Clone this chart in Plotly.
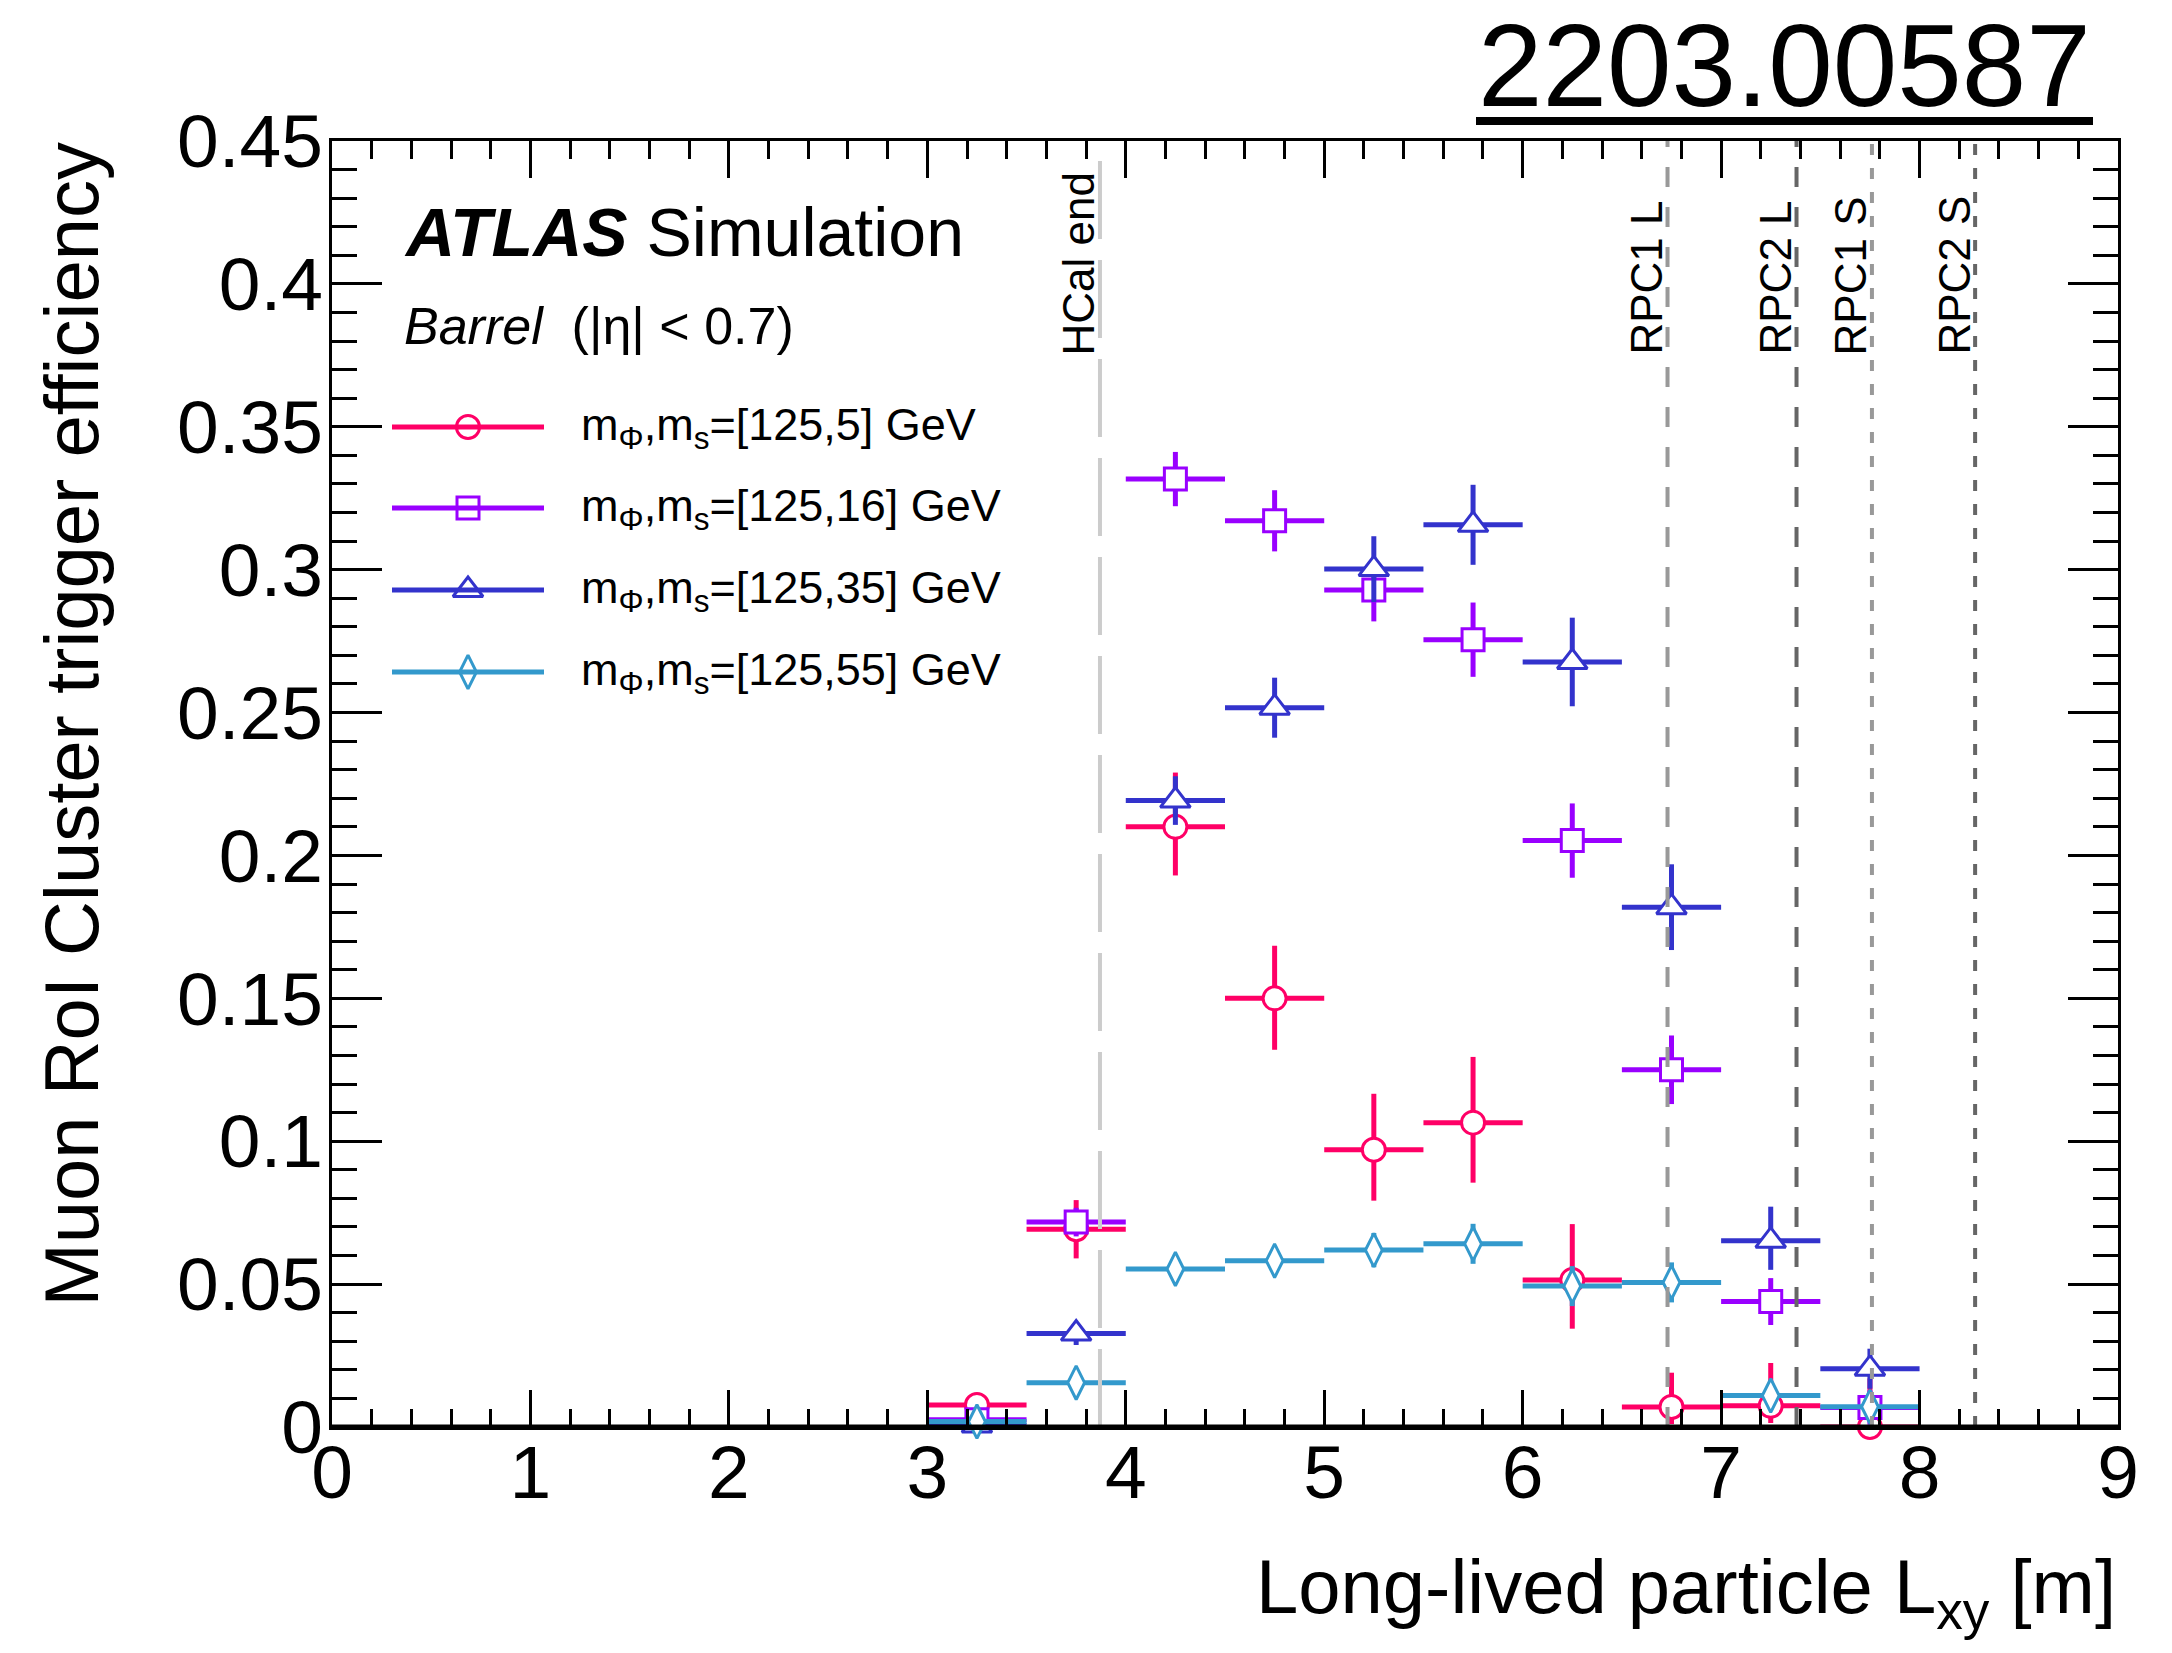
import plotly.graph_objects as go

# ---------------- data ----------------
bin_centers = [3.25, 3.75, 4.25, 4.75, 5.25, 5.75, 6.25, 6.75, 7.25, 7.75]
bin_halfwidth = [0.25, 0.25, 0.25, 0.25, 0.25, 0.25, 0.25, 0.25, 0.25, 0.25]

eff_m5 = [0.0077, 0.0692, 0.210, 0.150, 0.097, 0.1065, 0.0514, 0.0070, 0.0074, 0.0]
err_m5_up = [0.004, 0.0102, 0.019, 0.0184, 0.0196, 0.023, 0.0196, 0.012, 0.015, 0.017]
err_m5_dn = [0.003, 0.0102, 0.017, 0.018, 0.0178, 0.021, 0.017, 0.006, 0.006, 0.0]

eff_m16 = [0.0025, 0.0717, 0.3317, 0.3171, 0.2929, 0.2755, 0.2052, 0.1250, 0.0439, 0.0068]
err_m16 = [0.002, 0.005, 0.0095, 0.0107, 0.011, 0.013, 0.013, 0.012, 0.0082, 0.006]

eff_m35 = [0.0005, 0.0327, 0.2192, 0.2517, 0.3002, 0.3157, 0.2677, 0.1819, 0.0652, 0.0204]
err_m35_up = [0.001, 0.004, 0.0085, 0.0105, 0.0115, 0.014, 0.0155, 0.015, 0.0119, 0.007]
err_m35_dn = [0.0005, 0.004, 0.0085, 0.0105, 0.0115, 0.014, 0.0155, 0.015, 0.0102, 0.007]

eff_m55 = [0.0019, 0.0155, 0.0553, 0.0582, 0.0619, 0.0641, 0.0493, 0.0506, 0.0110, 0.0071]
err_m55 = [0.002, 0.005, 0.005, 0.005, 0.006, 0.007, 0.007, 0.007, 0.005, 0.005]

series_labels = ["m<sub>Φ</sub>,m<sub>s</sub>=[125,5] GeV",
                 "m<sub>Φ</sub>,m<sub>s</sub>=[125,16] GeV",
                 "m<sub>Φ</sub>,m<sub>s</sub>=[125,35] GeV",
                 "m<sub>Φ</sub>,m<sub>s</sub>=[125,55] GeV"]

detector_labels = ["HCal end", "RPC1 L", "RPC2 L", "RPC1 S", "RPC2 S"]
detector_positions = [3.87, 6.73, 7.38, 7.76, 8.28]

x_ticks = [0, 1, 2, 3, 4, 5, 6, 7, 8, 9]
y_ticks = [0, 0.05, 0.1, 0.15, 0.2, 0.25, 0.3, 0.35, 0.4, 0.45]

# ---------------- style ----------------
FONT = "Liberation Sans"
colors = ["#FF0066", "#9900FF", "#3333CC", "#3399CC"]
symbols = ["circle", "square", "triangle-up", "diamond-tall"]
msizes = [23, 22, 26, 24]
det_colors = ["#CCCCCC", "#999999", "#666666", "#999999", "#666666"]
det_dash = ["78px,21px", "20px,20px", "20px,20px", "11px,13px", "11px,13px"]

W, H = 2172, 1653
L, R, T, B = 332, 2118, 141, 1427
pw, ph = R - L, B - T


def px(x):
    return (x - L) / pw


def py(y):
    return (B - y) / ph


fig = go.Figure()

series = [
    (eff_m5, err_m5_up, err_m5_dn),
    (eff_m16, err_m16, err_m16),
    (eff_m35, err_m35_up, err_m35_dn),
    (eff_m55, err_m55, err_m55),
]
for i, (vals, eu, ed) in enumerate(series):
    fig.add_trace(go.Scatter(
        x=bin_centers, y=vals, mode="markers",
        marker=dict(symbol=symbols[i], size=msizes[i], color="white",
                    line=dict(color=colors[i], width=3)),
        error_x=dict(type="data", array=bin_halfwidth, symmetric=True,
                     thickness=5, width=0, color=colors[i]),
        error_y=dict(type="data", array=eu, arrayminus=ed, symmetric=False,
                     thickness=5, width=0, color=colors[i]),
        cliponaxis=False, showlegend=False, name=series_labels[i],
    ))

# manual ROOT-style legend
leg_rows = [427, 508, 590, 672]
leg_x0, leg_x1, leg_xm, leg_tx = 392, 544, 468, 579
for i, lab in enumerate(series_labels):
    fig.add_shape(type="line", xref="paper", yref="paper",
                  x0=px(leg_x0), x1=px(leg_x1), y0=py(leg_rows[i]), y1=py(leg_rows[i]),
                  line=dict(color=colors[i], width=5))
    fig.add_trace(go.Scatter(
        x=[px(leg_xm)], y=[py(leg_rows[i])], xaxis="x2", yaxis="y2", mode="markers",
        marker=dict(symbol=symbols[i], size=msizes[i], color="white",
                    line=dict(color=colors[i], width=3)),
        showlegend=False, cliponaxis=False, hoverinfo="skip"))
    fig.add_annotation(xref="paper", yref="paper", x=px(leg_tx), y=py(leg_rows[i]),
                       xanchor="left", yanchor="middle", text=lab, showarrow=False,
                       font=dict(family=FONT, size=45, color="black"))

# detector lines and labels
for lab, pos, c, d in zip(detector_labels, detector_positions, det_colors, det_dash):
    fig.add_shape(type="line", xref="x", yref="paper", x0=pos, x1=pos, y0=0, y1=1,
                  line=dict(color=c, width=4, dash=d), layer="above")
    fig.add_annotation(xref="x", yref="paper", x=pos, y=py(357), xanchor="center",
                       yanchor="bottom", xshift=-21, textangle=-90, text=lab,
                       showarrow=False, font=dict(family=FONT, size=44, color="black"))

# thick bottom axis line
fig.add_shape(type="line", xref="paper", yref="paper", x0=0, x1=1, y0=0, y1=0,
              line=dict(color="black", width=5), layer="above")

# ATLAS label
fig.add_annotation(xref="paper", yref="paper", x=px(402), y=py(232), xanchor="left",
                   yanchor="middle", showarrow=False,
                   text="<b><i>ATLAS</i></b> Simulation",
                   font=dict(family=FONT, size=68, color="black"))
fig.add_annotation(xref="paper", yref="paper", x=px(402), y=py(326), xanchor="left",
                   yanchor="middle", showarrow=False,
                   text="<i>Barrel</i>  (|η| &lt; 0.7)",
                   font=dict(family=FONT, size=52, color="black"))

# arXiv id
fig.add_annotation(xref="paper", yref="paper", x=px(2093), y=py(66), xanchor="right",
                   yanchor="middle", showarrow=False, text="2203.00587",
                   font=dict(family=FONT, size=116, color="black"))
fig.add_shape(type="line", xref="paper", yref="paper", x0=px(1476), x1=px(2093),
              y0=py(121), y1=py(121), line=dict(color="black", width=8))

# axis titles
fig.add_annotation(xref="paper", yref="paper", x=px(26), y=1.0, xanchor="left",
                   yanchor="top", textangle=-90, showarrow=False,
                   text="Muon RoI Cluster trigger efficiency",
                   font=dict(family=FONT, size=76, color="black"))
fig.add_annotation(xref="paper", yref="paper", x=1.0, y=py(1592), xanchor="right",
                   yanchor="middle", showarrow=False,
                   text="Long-lived particle L<sub>xy</sub> [m]",
                   font=dict(family=FONT, size=76, color="black"))

axis_common = dict(showline=True, linecolor="black", linewidth=3, mirror="allticks",
                   ticks="inside", tickwidth=3, tickcolor="black", showgrid=False,
                   zeroline=False, tickfont=dict(family=FONT, size=75, color="black"))

fig.update_layout(
    width=W, height=H, autosize=False,
    margin=dict(l=L, r=W - R, t=T, b=H - B, pad=0),
    paper_bgcolor="white", plot_bgcolor="white",
    showlegend=False,
    xaxis=dict(range=[0, 9], tickmode="array", tickvals=x_ticks,
               ticktext=[str(v) for v in x_ticks], ticklen=37,
               ticklabelstandoff=-22,
               minor=dict(dtick=0.2, ticklen=18, tickwidth=3, ticks="inside",
                          tickcolor="black", showgrid=False),
               **axis_common),
    yaxis=dict(range=[0, 0.45], tickmode="array", tickvals=y_ticks,
               ticktext=[f"{v:g}" for v in y_ticks], ticklen=50,
               ticklabelstandoff=-9,
               minor=dict(dtick=0.01, ticklen=25, tickwidth=3, ticks="inside",
                          tickcolor="black", showgrid=False),
               **axis_common),
    xaxis2=dict(overlaying="x", range=[0, 1], visible=False),
    yaxis2=dict(overlaying="y", range=[0, 1], visible=False),
)

fig.write_html("out.html")
